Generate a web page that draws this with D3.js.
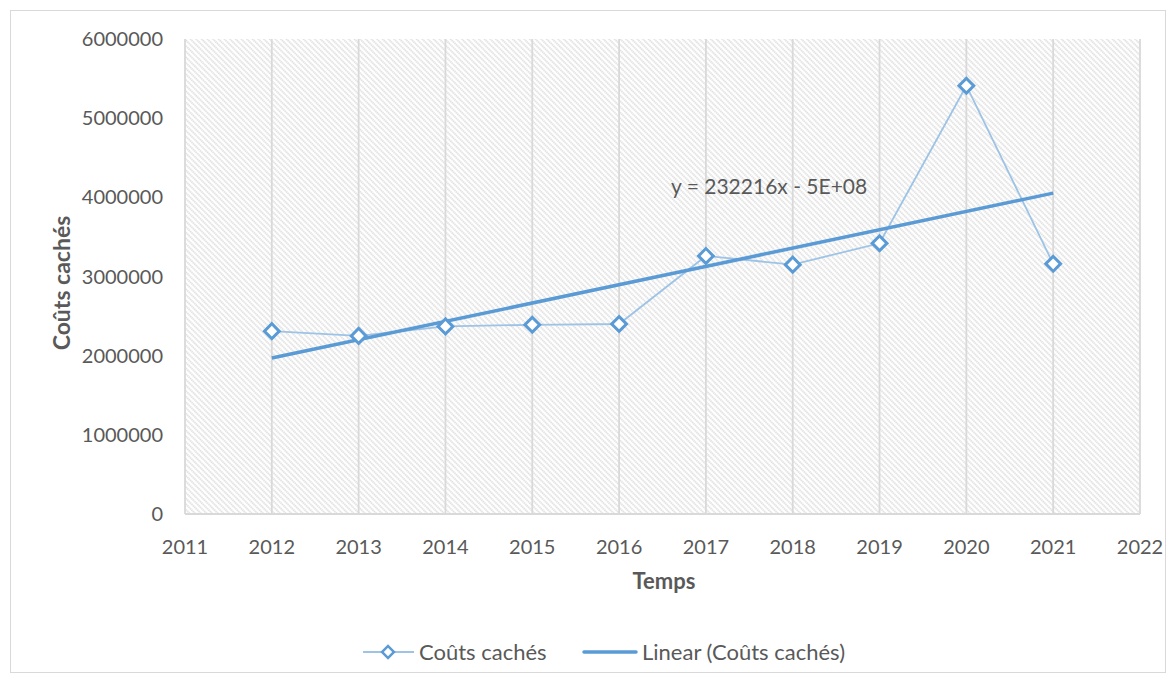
<!DOCTYPE html>
<html>
<head>
<meta charset="utf-8">
<script src="https://cdn.jsdelivr.net/npm/d3@7"></script>
<style>
  body { margin: 0; background: #fff; }
  svg text { font-family: Lato, "Open Sans", sans-serif; fill: #595959; }
</style>
</head>
<body>
<svg id="chart" width="1176" height="680"></svg>
<script>
const years = [2012, 2013, 2014, 2015, 2016, 2017, 2018, 2019, 2020, 2021];
const hiddenCosts = [2310000, 2250000, 2370000, 2390000, 2400000, 3260000, 3150000, 3420000, 5410000, 3160000];
const yTicks = [0, 1000000, 2000000, 3000000, 4000000, 5000000, 6000000];
const xTicks = [2011, 2012, 2013, 2014, 2015, 2016, 2017, 2018, 2019, 2020, 2021, 2022];
const equationLabel = "y = 232216x - 5E+08";

const svg = d3.select("#chart");
const margin = { left: 185, right: 1140, top: 39, bottom: 514 };

const x = d3.scaleLinear().domain([2011, 2022]).range([margin.left, margin.right]);
const y = d3.scaleLinear().domain([0, 6000000]).range([margin.bottom, margin.top]);

// outer frame
svg.append("rect")
  .attr("x", 10.5).attr("y", 10.5)
  .attr("width", 1155).attr("height", 662)
  .attr("fill", "#fff").attr("stroke", "#d9d9d9");

// hatched plot background (lines running top-left to bottom-right)
const defs = svg.append("defs");
const pat = defs.append("pattern")
  .attr("id", "hatch")
  .attr("patternUnits", "userSpaceOnUse")
  .attr("width", 4).attr("height", 4)
  .attr("patternTransform", "rotate(45)");
pat.append("rect").attr("width", 4).attr("height", 4).attr("fill", "#fff");
pat.append("line")
  .attr("x1", 0).attr("y1", 1).attr("x2", 4).attr("y2", 1)
  .attr("stroke", "#d8d8d8").attr("stroke-width", 1.4)
  .attr("stroke-dasharray", "1.4 0.6");

svg.append("rect")
  .attr("x", margin.left).attr("y", margin.top)
  .attr("width", margin.right - margin.left)
  .attr("height", margin.bottom - margin.top)
  .attr("fill", "url(#hatch)");

// vertical gridlines
svg.append("g")
  .selectAll("line")
  .data(xTicks)
  .join("line")
  .attr("x1", (d) => x(d)).attr("x2", (d) => x(d))
  .attr("y1", margin.top).attr("y2", margin.bottom)
  .attr("stroke", "#d9d9d9").attr("stroke-width", 1.8);

// baseline
svg.append("line")
  .attr("x1", margin.left).attr("x2", margin.right)
  .attr("y1", y(0)).attr("y2", y(0))
  .attr("stroke", "#d9d9d9").attr("stroke-width", 1.8);

// y tick labels
svg.append("g")
  .selectAll("text")
  .data(yTicks)
  .join("text")
  .attr("x", 163)
  .attr("y", (d) => y(d))
  .attr("dy", "0.35em")
  .attr("text-anchor", "end")
  .attr("font-size", 20)
  .text((d) => d);

// x tick labels
svg.append("g")
  .selectAll("text")
  .data(xTicks)
  .join("text")
  .attr("x", (d) => x(d))
  .attr("y", 547)
  .attr("dy", "0.35em")
  .attr("text-anchor", "middle")
  .attr("font-size", 20)
  .text((d) => d);

// axis titles
svg.append("text")
  .attr("transform", "translate(62,283) rotate(-90)")
  .attr("dy", "0.35em")
  .attr("text-anchor", "middle")
  .attr("font-size", 23)
  .attr("font-weight", "bold")
  .text("Coûts cachés");

svg.append("text")
  .attr("x", 664)
  .attr("y", 581)
  .attr("dy", "0.35em")
  .attr("text-anchor", "middle")
  .attr("font-size", 22)
  .attr("font-weight", "bold")
  .text("Temps");

// least-squares trend line
const mx = d3.mean(years);
const my = d3.mean(hiddenCosts);
const slope = d3.sum(years, (d, i) => (d - mx) * (hiddenCosts[i] - my)) /
  d3.sum(years, (d) => (d - mx) ** 2);
const intercept = my - slope * mx;
const trendEnds = [years[0], years[years.length - 1]];

const blue = "#5b9bd5";
const lightBlue = "#9dc3e6";

const line = d3.line().x((d) => x(d[0])).y((d) => y(d[1]));

svg.append("path")
  .datum(years.map((d, i) => [d, hiddenCosts[i]]))
  .attr("d", line)
  .attr("fill", "none")
  .attr("stroke", lightBlue)
  .attr("stroke-width", 1.8);

svg.append("path")
  .datum(trendEnds.map((d) => [d, slope * d + intercept]))
  .attr("d", line)
  .attr("fill", "none")
  .attr("stroke", blue)
  .attr("stroke-width", 3.5);

const diamond = d3.symbol().type(d3.symbolSquare).size(110);

svg.append("g")
  .selectAll("path")
  .data(years)
  .join("path")
  .attr("d", diamond)
  .attr("transform", (d, i) => `translate(${x(d)},${y(hiddenCosts[i])}) rotate(45)`)
  .attr("fill", "#fff")
  .attr("stroke", blue)
  .attr("stroke-width", 3);

svg.append("text")
  .attr("x", 671)
  .attr("y", 187)
  .attr("dy", "0.35em")
  .attr("font-size", 21)
  .text(equationLabel);

// legend
const legendY = 652;
svg.append("line")
  .attr("x1", 363).attr("x2", 414)
  .attr("y1", legendY).attr("y2", legendY)
  .attr("stroke", lightBlue).attr("stroke-width", 1.8);
svg.append("path")
  .attr("d", d3.symbol().type(d3.symbolSquare).size(70))
  .attr("transform", `translate(388,${legendY}) rotate(45)`)
  .attr("fill", "#fff").attr("stroke", blue).attr("stroke-width", 2.5);
svg.append("text")
  .attr("x", 419).attr("y", legendY).attr("dy", "0.35em")
  .attr("font-size", 22)
  .text("Coûts cachés");

svg.append("line")
  .attr("x1", 584).attr("x2", 636)
  .attr("y1", legendY).attr("y2", legendY)
  .attr("stroke", blue).attr("stroke-width", 3.5)
  .attr("stroke-linecap", "round");
svg.append("text")
  .attr("x", 642).attr("y", legendY).attr("dy", "0.35em")
  .attr("font-size", 22)
  .text("Linear (Coûts cachés)");
</script>
</body>
</html>
